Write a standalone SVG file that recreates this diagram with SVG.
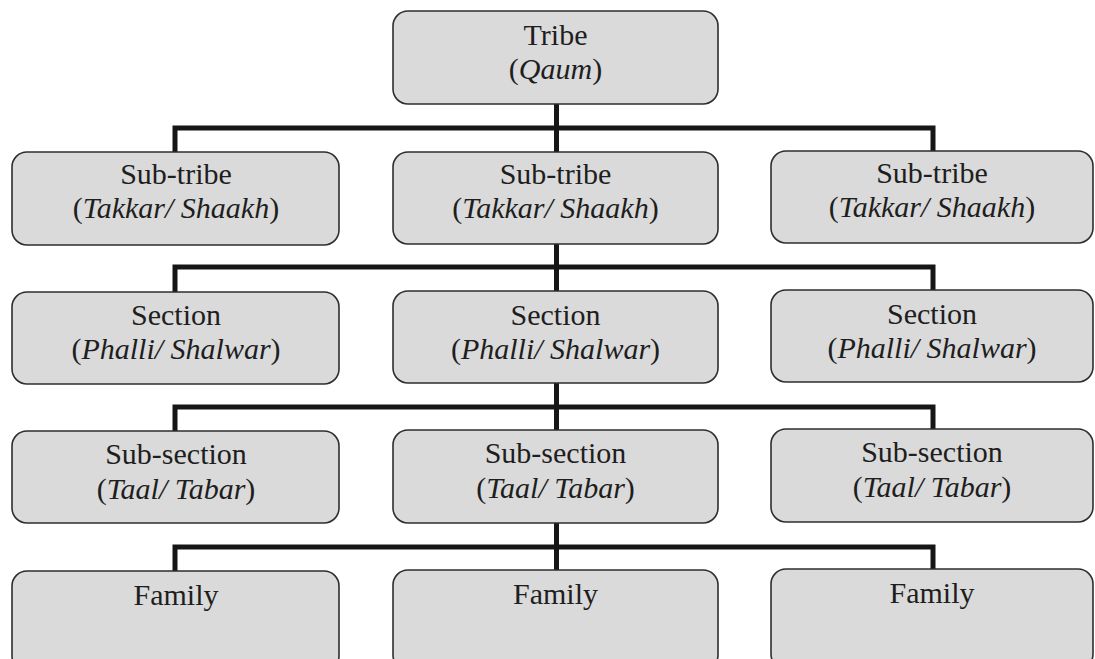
<svg xmlns="http://www.w3.org/2000/svg" width="1095" height="659" viewBox="0 0 1095 659">
<style>
.box{fill:#dadada;stroke:#2e2e2e;stroke-width:1.6}
.t{font-size:30px;fill:#1e1e1e;text-anchor:middle}
.i{font-style:italic}
.c{fill:none;stroke:#161616;stroke-width:5;stroke-linejoin:miter}
</style>
<rect width="1095" height="659" fill="#ffffff"/>
<g id="connectors">
<path class="c" d="M556.5,104 V152 M175,152 V128 H933 V151"/>
<path class="c" d="M556.5,244 V291 M175,292 V267 H933 V290"/>
<path class="c" d="M556.5,383 V430 M175,431 V407 H933 V429"/>
<path class="c" d="M556.5,523 V570 M175,571 V547 H933 V569"/>
</g>
<g font-family="Liberation Serif, Times New Roman, serif">
<g id="tribe">
<rect class="box" x="393" y="11" width="325" height="93" rx="15"/>
<text class="t" x="555.5" y="45">Tribe</text>
<text class="t" x="555.5" y="79">(<tspan class="i">Qaum</tspan>)</text>
</g>
<g id="subtribe-1">
<rect class="box" x="12" y="152" width="327" height="93" rx="15"/>
<text class="t" x="176" y="184">Sub-tribe</text>
<text class="t" x="176" y="218">(<tspan class="i">Takkar/ Shaakh</tspan>)</text>
</g>
<g id="subtribe-2">
<rect class="box" x="393" y="152" width="325" height="92" rx="15"/>
<text class="t" x="555.5" y="184">Sub-tribe</text>
<text class="t" x="555.5" y="218">(<tspan class="i">Takkar/ Shaakh</tspan>)</text>
</g>
<g id="subtribe-3">
<rect class="box" x="771" y="151" width="322" height="92" rx="15"/>
<text class="t" x="932" y="183">Sub-tribe</text>
<text class="t" x="932" y="217">(<tspan class="i">Takkar/ Shaakh</tspan>)</text>
</g>
<g id="section-1">
<rect class="box" x="12" y="292" width="327" height="92" rx="15"/>
<text class="t" x="176" y="325">Section</text>
<text class="t" x="176" y="359">(<tspan class="i">Phalli/ Shalwar</tspan>)</text>
</g>
<g id="section-2">
<rect class="box" x="393" y="291" width="325" height="92" rx="15"/>
<text class="t" x="555.5" y="325">Section</text>
<text class="t" x="555.5" y="359">(<tspan class="i">Phalli/ Shalwar</tspan>)</text>
</g>
<g id="section-3">
<rect class="box" x="771" y="290" width="322" height="92" rx="15"/>
<text class="t" x="932" y="324">Section</text>
<text class="t" x="932" y="358">(<tspan class="i">Phalli/ Shalwar</tspan>)</text>
</g>
<g id="subsection-1">
<rect class="box" x="12" y="431" width="327" height="92" rx="15"/>
<text class="t" x="176" y="464">Sub-section</text>
<text class="t" x="176" y="499">(<tspan class="i">Taal/ Tabar</tspan>)</text>
</g>
<g id="subsection-2">
<rect class="box" x="393" y="430" width="325" height="93" rx="15"/>
<text class="t" x="555.5" y="463">Sub-section</text>
<text class="t" x="555.5" y="498">(<tspan class="i">Taal/ Tabar</tspan>)</text>
</g>
<g id="subsection-3">
<rect class="box" x="771" y="429" width="322" height="93" rx="15"/>
<text class="t" x="932" y="462">Sub-section</text>
<text class="t" x="932" y="497">(<tspan class="i">Taal/ Tabar</tspan>)</text>
</g>
<g id="family-1">
<rect class="box" x="12" y="571" width="327" height="100" rx="15"/>
<text class="t" x="176" y="605">Family</text>
</g>
<g id="family-2">
<rect class="box" x="393" y="570" width="325" height="100" rx="15"/>
<text class="t" x="555.5" y="604">Family</text>
</g>
<g id="family-3">
<rect class="box" x="771" y="569" width="322" height="100" rx="15"/>
<text class="t" x="932" y="603">Family</text>
</g>
</g>
</svg>
